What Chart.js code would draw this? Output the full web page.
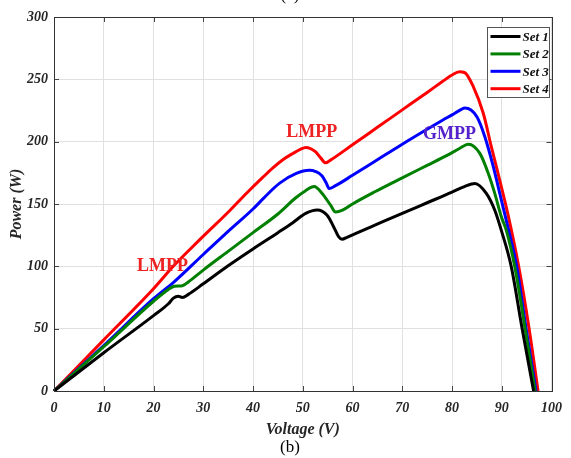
<!DOCTYPE html>
<html>
<head>
<meta charset="utf-8">
<script src="https://cdn.jsdelivr.net/npm/chart.js@4.4.0/dist/chart.umd.min.js"></script>
<style>
  html, body { margin: 0; padding: 0; background: #fff; }
</style>
</head>
<body>
<canvas id="pv-chart" width="571" height="458"></canvas>
<script>
"use strict";

// P-V curves (voltage in V, power in W)
const set1V = [0, 10, 20, 23, 24, 25, 25.8, 27, 30, 35, 40, 45, 48, 50.6, 52.9, 54.9, 56.2, 57.2, 57.9, 59, 64.5, 70, 75, 80, 82.5, 84.6, 86.9, 88.6, 89.9, 91.9, 94.1, 96.4];
const set1P = [0, 30.7, 60.5, 70, 74.5, 76, 75, 77.5, 86, 100.5, 114, 127, 135, 142.5, 145.2, 141, 131.8, 123.8, 121.7, 123.5, 133, 142.5, 151, 159.5, 164, 166.5, 158.5, 145, 129, 100, 50, 0];

const set2V = [0, 10, 20, 23, 24.2, 25.8, 27, 30, 35, 40, 45, 48.6, 50.5, 52.3, 53.9, 55.6, 56.6, 58, 60, 64.5, 70, 75, 79, 81.5, 83.3, 85.6, 87.3, 88.6, 89.9, 90.9, 92.6, 94.7, 96.7];
const set2P = [0, 35.5, 72, 81.5, 84, 84.5, 87.5, 97, 112, 127, 142, 155, 160.5, 164, 158.5, 149, 143.5, 145, 150, 159.8, 171, 181, 189, 194.5, 198, 190.6, 174.5, 158.5, 140, 129, 100, 50, 0];

const set3V = [0, 10, 20, 24.2, 30, 35, 40, 42.1, 45.3, 48.7, 51.3, 52.6, 53.9, 54.7, 55.3, 56.5, 60, 65, 70, 75, 78, 80, 81.7, 82.6, 85, 86.6, 88.3, 89.6, 91.2, 93, 94.9, 96.9];
const set3P = [0, 36.5, 74, 87.8, 109.5, 128, 146, 154.5, 166.5, 174.5, 177, 176, 172.5, 167, 162.5, 164.5, 173, 185.5, 198, 210, 217, 221.5, 225.5, 227, 220, 204, 180, 158.5, 132, 100, 50, 0];

const set4V = [0, 10, 20, 24.2, 28.9, 35.4, 38.8, 42, 44, 46, 48, 49.5, 50.6, 52.6, 53.6, 54.6, 55.5, 60, 65, 70, 75, 78, 80, 81.5, 82.5, 84.3, 86.3, 87.9, 89.6, 91.2, 93.4, 95.5, 97.3];
const set4P = [0, 41, 82, 101, 119.8, 145, 159, 171.5, 179, 185.5, 190.5, 193.8, 195.3, 191.8, 187, 183, 185, 197.5, 211.5, 225.5, 239.5, 248, 253.5, 256, 255.5, 244, 222.6, 196, 169, 142.5, 100, 50, 0];

const seriesNames = ["Set 1", "Set 2", "Set 3", "Set 4"];
const seriesColors = ["#000000", "#008000", "#0000ff", "#ff0000"];

const xTicks = [0, 10, 20, 30, 40, 50, 60, 70, 80, 90, 100];
const yTicks = [0, 50, 100, 150, 200, 250, 300];

// annotation texts, anchored at data coordinates
const noteTexts = ["LMPP", "LMPP", "GMPP"];
const noteV = [21.8, 51.8, 79.5];
const noteP = [100.2, 207.2, 205.7];
const noteColors = ["#ee2222", "#ee2222", "#5522cc"];

const toPoints = (vs, ps) => vs.map((v, i) => ({ x: v, y: ps[i] }));

const serif = "'Liberation Serif', 'DejaVu Serif', serif";
const tickFont = { family: serif, size: 14, style: "italic", weight: "bold" };

// frame, inward tick marks, texts and legend
const decorations = {
    id: "decorations",
    afterDatasetsDraw(chart) {
        const { ctx, chartArea: a, scales } = chart;
        const xs = scales.x, ys = scales.y;
        ctx.save();

        // inward ticks
        ctx.strokeStyle = "#444";
        ctx.lineWidth = 1;
        ctx.beginPath();
        xTicks.forEach(t => {
            const px = Math.round(xs.getPixelForValue(t)) + 0.5;
            ctx.moveTo(px, a.bottom); ctx.lineTo(px, a.bottom - 5);
            ctx.moveTo(px, a.top); ctx.lineTo(px, a.top + 5);
        });
        yTicks.forEach(t => {
            const py = Math.round(ys.getPixelForValue(t)) + 0.5;
            ctx.moveTo(a.left, py); ctx.lineTo(a.left + 5, py);
            ctx.moveTo(a.right, py); ctx.lineTo(a.right - 5, py);
        });
        ctx.stroke();

        // frame
        ctx.strokeStyle = "#333";
        ctx.strokeRect(Math.round(a.left) + 0.5, Math.round(a.top) + 0.5,
            Math.round(a.right - a.left), Math.round(a.bottom - a.top));

        // MPP annotations
        ctx.font = "bold 18px " + serif;
        ctx.textAlign = "center";
        ctx.textBaseline = "middle";
        noteTexts.forEach((txt, i) => {
            ctx.fillStyle = noteColors[i];
            ctx.fillText(txt, xs.getPixelForValue(noteV[i]), ys.getPixelForValue(noteP[i]));
        });

        // legend box
        const lx = 487.5, ly = 27.5, lw = 62, lh = 70;
        ctx.fillStyle = "#fff";
        ctx.fillRect(lx, ly, lw, lh);
        ctx.strokeStyle = "#555";
        ctx.strokeRect(lx, ly, lw, lh);
        ctx.font = "italic bold 13px " + serif;
        ctx.textAlign = "left";
        seriesNames.forEach((name, i) => {
            const ry = 36.5 + i * 17.4;
            ctx.strokeStyle = seriesColors[i];
            ctx.lineWidth = 3;
            ctx.beginPath();
            ctx.moveTo(lx + 3, ry); ctx.lineTo(lx + 33, ry);
            ctx.stroke();
            ctx.fillStyle = "#111";
            ctx.fillText(name, lx + 35, ry + 1);
        });

        // axis titles and panel captions
        ctx.fillStyle = "#262626";
        ctx.font = "italic bold 16px " + serif;
        ctx.textAlign = "center";
        ctx.fillText("Voltage (V)", (a.left + a.right) / 2, 430);
        ctx.save();
        ctx.translate(17, (a.top + a.bottom) / 2);
        ctx.rotate(-Math.PI / 2);
        ctx.fillText("Power (W)", 0, 0);
        ctx.restore();

        ctx.fillStyle = "#000";
        ctx.font = "17px " + serif;
        ctx.fillText("(b)", 290, 448);
        ctx.textBaseline = "alphabetic";
        ctx.fillText("(a)", 290, 0);

        ctx.restore();
    }
};

const datasets = [
    toPoints(set1V, set1P),
    toPoints(set2V, set2P),
    toPoints(set3V, set3P),
    toPoints(set4V, set4P)
].map((pts, i) => ({
    label: seriesNames[i],
    data: pts,
    showLine: true,
    borderColor: seriesColors[i],
    backgroundColor: seriesColors[i],
    borderWidth: 3,
    pointRadius: 0,
    cubicInterpolationMode: "monotone",
    clip: 2
}));

new Chart(document.getElementById("pv-chart"), {
    type: "scatter",
    data: { datasets: datasets },
    options: {
        responsive: false,
        animation: false,
        layout: { padding: { top: 17, right: 12, left: 0, bottom: 0 } },
        plugins: { legend: { display: false }, tooltip: { enabled: false } },
        scales: {
            x: {
                type: "linear", min: 0, max: 100,
                afterFit: (s) => { s.height = 67; },
                afterBuildTicks: (s) => { s.ticks = xTicks.map(v => ({ value: v })); },
                grid: { color: "#e0e0e0", drawTicks: false },
                border: { display: false },
                ticks: { font: tickFont, color: "#262626", padding: 9, maxRotation: 0 }
            },
            y: {
                type: "linear", min: 0, max: 300,
                afterFit: (s) => { s.width = 54; },
                afterBuildTicks: (s) => { s.ticks = yTicks.map(v => ({ value: v })); },
                grid: { color: "#e0e0e0", drawTicks: false },
                border: { display: false },
                ticks: { font: tickFont, color: "#262626", padding: 6 }
            }
        }
    },
    plugins: [decorations]
});
</script>
</body>
</html>
